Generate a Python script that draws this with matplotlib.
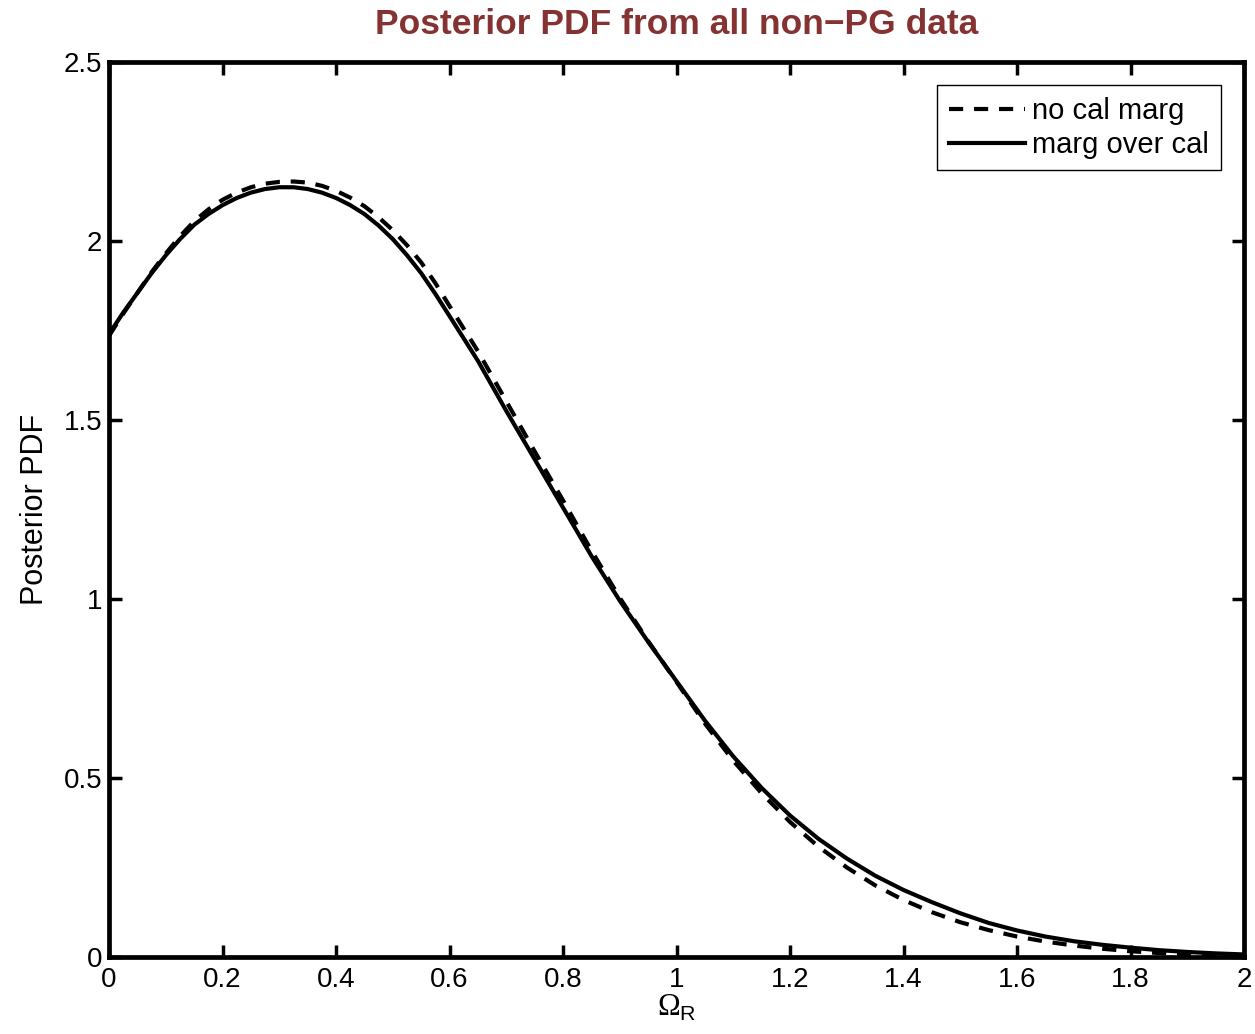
import matplotlib
matplotlib.use('Agg')
import matplotlib.pyplot as plt

# フォントの設定
plt.rcParams['font.family'] = ['Liberation Sans', 'DejaVu Sans']
plt.rcParams['mathtext.fontset'] = 'custom'
plt.rcParams['mathtext.rm'] = 'Liberation Serif'
plt.rcParams['mathtext.sf'] = 'Liberation Sans'

# データ
omega_r = [0.000, 0.025, 0.050, 0.075, 0.100, 0.125, 0.150, 0.175, 0.200, 0.225,
           0.250, 0.275, 0.300, 0.325, 0.350, 0.375, 0.400, 0.425, 0.450, 0.475,
           0.500, 0.525, 0.550, 0.575, 0.600, 0.65, 0.70, 0.75, 0.80, 0.85,
           0.90, 0.95, 1.00, 1.05, 1.10, 1.15, 1.20, 1.25, 1.30, 1.35,
           1.40, 1.45, 1.50, 1.55, 1.60, 1.65, 1.70, 1.75, 1.80, 1.85,
           1.90, 1.95, 2.00]

no_cal_marg = [1.735, 1.797, 1.855, 1.913, 1.965, 2.013, 2.055, 2.088, 2.115, 2.135,
               2.150, 2.160, 2.165, 2.166, 2.163, 2.154, 2.140, 2.121, 2.097, 2.066,
               2.030, 1.988, 1.940, 1.882, 1.818, 1.692, 1.552, 1.412, 1.275, 1.135,
               1.003, 0.882, 0.768, 0.652, 0.548, 0.457, 0.377, 0.308, 0.250, 0.200,
               0.159, 0.125, 0.097, 0.075, 0.057, 0.043, 0.032, 0.023, 0.016, 0.011,
               0.008, 0.005, 0.004]

marg_over_cal = [1.740, 1.800, 1.855, 1.910, 1.960, 2.005, 2.045, 2.075, 2.100, 2.120,
                 2.135, 2.145, 2.150, 2.150, 2.145, 2.135, 2.120, 2.100, 2.075, 2.043,
                 2.005, 1.960, 1.910, 1.852, 1.790, 1.665, 1.525, 1.390, 1.255, 1.120,
                 0.995, 0.880, 0.770, 0.660, 0.560, 0.472, 0.395, 0.330, 0.275, 0.227,
                 0.187, 0.153, 0.122, 0.095, 0.074, 0.057, 0.044, 0.034, 0.026, 0.019,
                 0.014, 0.010, 0.007]

x_ticks = [0, 0.2, 0.4, 0.6, 0.8, 1, 1.2, 1.4, 1.6, 1.8, 2]
x_tick_labels = ['0', '0.2', '0.4', '0.6', '0.8', '1', '1.2', '1.4', '1.6', '1.8', '2']
y_ticks = [0, 0.5, 1, 1.5, 2, 2.5]
y_tick_labels = ['0', '0.5', '1', '1.5', '2', '2.5']

# グラフのプロット
fig = plt.figure(figsize=(12.55, 10.34), dpi=100)
ax = fig.add_axes([0.0869, 0.0745, 0.9044, 0.8656])

ax.plot(omega_r, no_cal_marg, color='black', lw=3, linestyle=(0, (3.4, 2.6)),
        label='no cal marg')
ax.plot(omega_r, marg_over_cal, color='black', lw=3, label='marg over cal')

ax.set_xlim(0, 2)
ax.set_ylim(0, 2.5)
ax.set_xticks(x_ticks)
ax.set_xticklabels(x_tick_labels)
ax.set_yticks(y_ticks)
ax.set_yticklabels(y_tick_labels)

for s in ax.spines.values():
    s.set_linewidth(3.4)
ax.tick_params(direction='in', length=9, width=2.5, labelsize=20,
               top=True, right=True)
ax.tick_params(axis='x', pad=7)
ax.tick_params(axis='y', pad=5)

ax.set_title('Posterior PDF from all non\u2212PG data', fontsize=25.5,
             fontweight='bold', color='#843232', pad=20)
ax.set_xlabel(r'$\Omega_{\mathsf{R}}$', fontsize=22, labelpad=0)
ax.set_ylabel('Posterior PDF', fontsize=22, labelpad=10)

leg = ax.legend(loc='upper right', fontsize=21, handlelength=2.6,
                handletextpad=0.25, borderaxespad=0.8, borderpad=0.4,
                labelspacing=0.2, fancybox=False, framealpha=1)
leg.get_frame().set_edgecolor('black')
leg.get_frame().set_linewidth(1)

fig.savefig('out.png', dpi=100)
